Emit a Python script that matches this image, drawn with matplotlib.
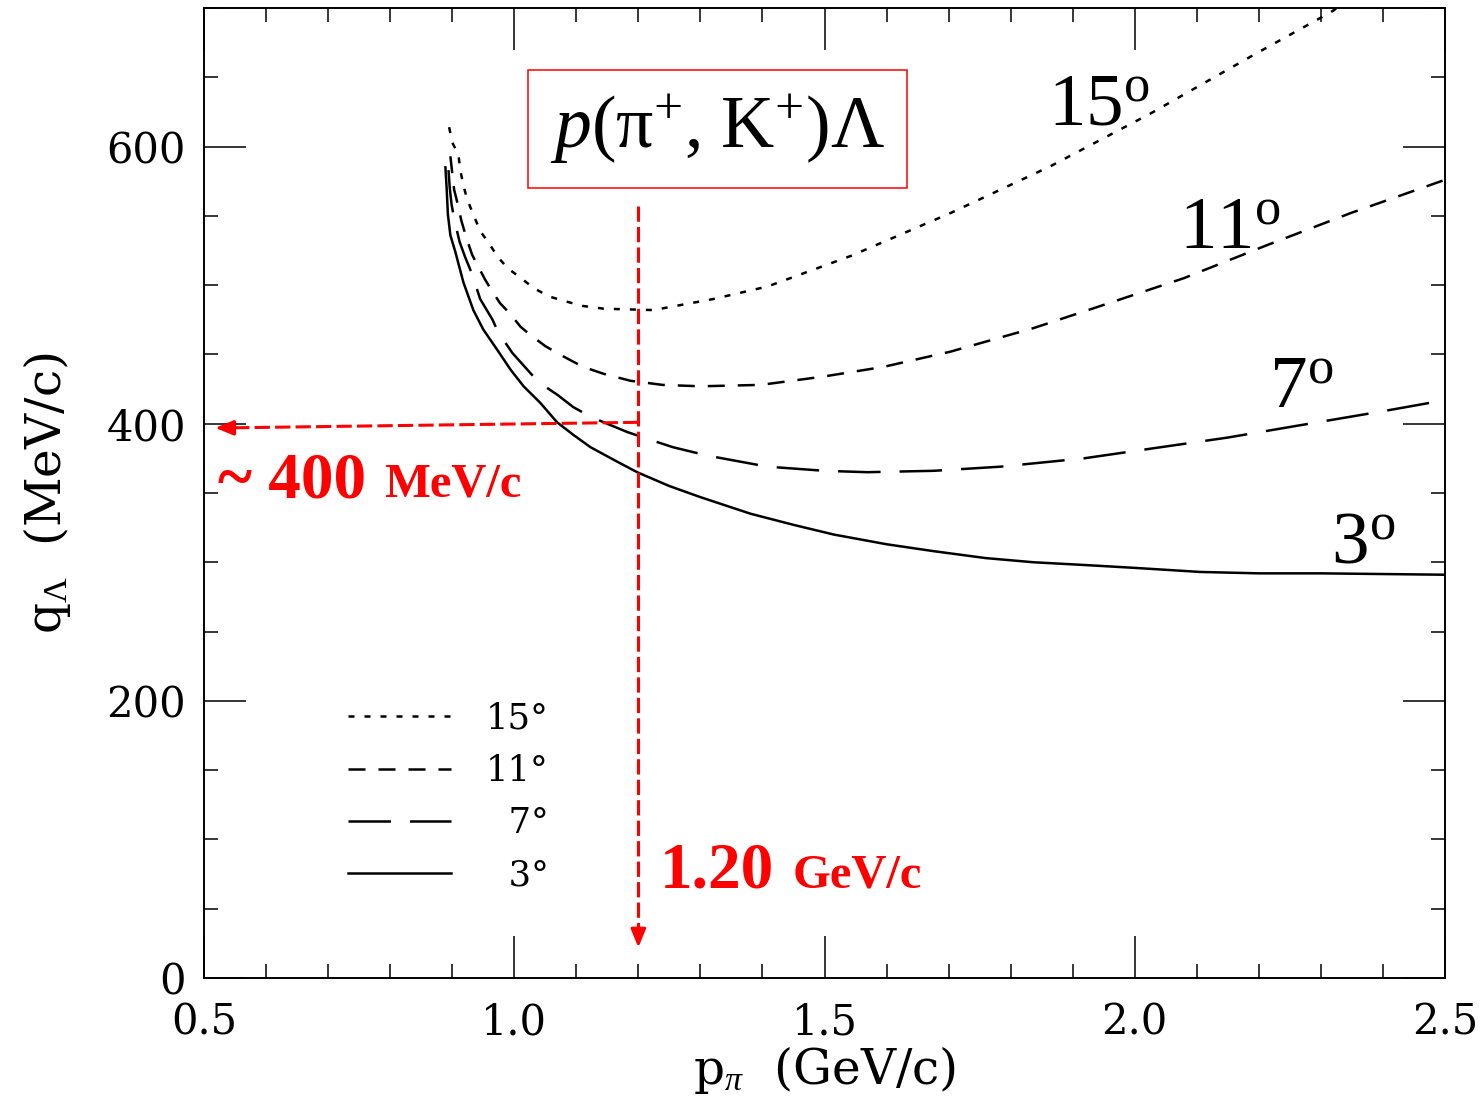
import numpy as np
import matplotlib.pyplot as plt
from matplotlib.ticker import MultipleLocator

plt.rcParams['font.family'] = 'DejaVu Serif'
plt.rcParams['mathtext.fontset'] = 'custom'
plt.rcParams['mathtext.rm'] = 'Liberation Serif'
plt.rcParams['mathtext.it'] = 'Liberation Serif:italic'
plt.rcParams['mathtext.bf'] = 'Liberation Serif:bold'

# q_Lambda (MeV/c) vs p_pi (GeV/c)
p15 = [0.895, 0.900, 0.910, 0.913, 0.918, 0.924, 0.934, 0.945, 0.958, 0.974,
       0.990, 1.011, 1.031, 1.055, 1.077, 1.110, 1.144, 1.224, 1.321, 1.408,
       1.542, 1.620, 1.703, 1.865, 2.026, 2.187, 2.316, 2.340]
q15 = [614, 603, 594, 583, 572, 562, 551, 539, 531, 520,
       512, 505, 498, 492, 489, 485, 483, 482, 490, 499,
       521, 536, 552, 586, 624, 665, 697, 704]

p11 = [0.897, 0.900, 0.903, 0.908, 0.915, 0.923, 0.932, 0.940, 0.953, 0.961,
       0.977, 0.994, 1.010, 1.026, 1.050, 1.069, 1.094, 1.111, 1.144, 1.187,
       1.239, 1.300, 1.397, 1.498, 1.595, 1.703, 1.837, 1.945, 2.079, 2.214,
       2.348, 2.500]
q11 = [593, 581, 569, 560, 546, 534, 522, 515, 504, 498,
       487, 479, 470, 464, 456, 451, 445, 441, 436, 431,
       428, 427, 428, 434, 441, 452, 469, 485, 505, 529,
       552, 576]

p7 = [0.894, 0.896, 0.899, 0.904, 0.912, 0.921, 0.932, 0.945, 0.965, 0.974,
      0.997, 1.021, 1.039, 1.069, 1.095, 1.123, 1.155, 1.182, 1.215, 1.256,
      1.311, 1.408, 1.500, 1.569, 1.676, 1.784, 1.918, 2.026, 2.150, 2.268,
      2.400, 2.500]
q7 = [583, 570, 558, 546, 531, 520, 508, 490, 475, 466,
      451, 439, 430, 421, 412, 405, 399, 394, 389, 383,
      377, 369, 366, 365, 366, 369, 375, 382, 390, 399,
      409, 417]

p3 = [0.889, 0.891, 0.893, 0.897, 0.905, 0.918, 0.934, 0.950, 0.973, 0.994,
      1.015, 1.042, 1.069, 1.095, 1.123, 1.160, 1.198, 1.250, 1.300, 1.381,
      1.450, 1.515, 1.600, 1.676, 1.760, 1.837, 1.920, 1.998, 2.106, 2.200,
      2.300, 2.500]
q3 = [585, 570, 551, 536, 524, 502, 482, 468, 453, 439,
      427, 415, 401, 392, 383, 374, 365, 355, 347, 335,
      327, 320, 313, 308, 303, 300, 298, 296, 293, 292,
      292, 291]

legend_labels = ['15°', '11°', '\u20077°', '\u20073°']
curve_labels = ['15$^{\\mathrm{o}}$', '11$^{\\mathrm{o}}$', '7$^{\\mathrm{o}}$', '3$^{\\mathrm{o}}$']
curve_label_pos = [(1.861, 616), (2.071, 527), (2.216, 412), (2.316, 300)]

p_sel = 1.20   # selected beam momentum
q_sel = 400    # corresponding momentum transfer

fig = plt.figure(figsize=(14.84, 10.96), dpi=100)
ax = fig.add_axes([0.1375, 0.1077, 0.8362, 0.885])

lw = 1.8
ax.plot(p15, q15, color='k', lw=lw, dashes=(2.4, 4.0), label=legend_labels[0])
ax.plot(p11, q11, color='k', lw=lw, dashes=(6.8, 5.2), label=legend_labels[1])
ax.plot(p7, q7, color='k', lw=lw, dashes=(17, 7.6), label=legend_labels[2])
ax.plot(p3, q3, color='k', lw=lw, label=legend_labels[3])

for lab, (xx, yy) in zip(curve_labels, curve_label_pos):
    ax.text(xx, yy, lab, fontsize=54, family='Liberation Serif', va='baseline', ha='left')

ax.set_xlim(0.5, 2.5)
ax.set_ylim(0, 700)
ax.xaxis.set_major_locator(MultipleLocator(0.5))
ax.xaxis.set_minor_locator(MultipleLocator(0.1))
ax.yaxis.set_major_locator(MultipleLocator(200))
ax.yaxis.set_minor_locator(MultipleLocator(50))
ax.xaxis.set_major_formatter(plt.FuncFormatter(lambda v, _: f'{v:.1f}'))
ax.tick_params(which='both', direction='in', top=True, right=True, width=1.1, labelsize=30)
ax.tick_params(which='major', length=30)
ax.tick_params(which='minor', length=10)
ax.tick_params(axis='y', pad=13)
ax.tick_params(axis='x', pad=17)
for s in ax.spines.values():
    s.set_linewidth(1.4)

ax.set_xlabel('p$_{\\pi}$  (GeV/c)', fontsize=35, labelpad=0)
ax.set_ylabel('q$_{\\Lambda}$  (MeV/c)', fontsize=35, labelpad=24)

ax.legend(loc='upper left', bbox_to_anchor=(0.116, 0.285), frameon=False,
          prop={'family': 'DejaVu Serif', 'size': 25.5}, handlelength=2.9,
          handletextpad=1.0, labelspacing=0.52, borderpad=0, borderaxespad=0)

# reaction label in red box
ax.text(1.327, 612.6, '$p$(π$^{+}$, K$^{+}$)Λ', fontsize=53, family='Liberation Serif',
        ha='center', va='center',
        bbox=dict(boxstyle='square,pad=0.3', fc='white', ec='red', lw=1.1))

# red guide lines with arrows
red = '#ff0000'
ax.plot([p_sel, p_sel], [557, 34], color=red, lw=2.2, dashes=(5, 1.7))
ax.annotate('', xy=(p_sel, 22), xytext=(p_sel, 36),
            arrowprops=dict(arrowstyle='-|>,head_length=1.1,head_width=0.45', color=red,
                            lw=2.2, shrinkA=0, shrinkB=0, mutation_scale=10))
ax.plot([p_sel, 0.54], [q_sel + 1, q_sel - 3], color=red, lw=2.2, dashes=(5, 1.7))
ax.annotate('', xy=(0.518, q_sel - 3), xytext=(0.545, q_sel - 3),
            arrowprops=dict(arrowstyle='-|>,head_length=1.1,head_width=0.45', color=red,
                            lw=2.2, shrinkA=0, shrinkB=0, mutation_scale=10))

t1 = ax.text(0.5226, 347, '~ 400', color=red, fontsize=47, fontweight='bold',
             family='Liberation Serif', va='baseline', ha='left')
ax.annotate('MeV/c', xy=(1, 0), xycoords=t1, xytext=(13, 10.2), textcoords='offset points',
            color=red, fontsize=35, fontweight='bold', family='Liberation Serif',
            va='baseline', ha='left')
t2 = ax.text(1.235, 65, '1.20', color=red, fontsize=47, fontweight='bold',
             family='Liberation Serif', va='baseline', ha='left')
ax.annotate('GeV/c', xy=(1, 0), xycoords=t2, xytext=(13, 10.2), textcoords='offset points',
            color=red, fontsize=35, fontweight='bold', family='Liberation Serif',
            va='baseline', ha='left')

fig.savefig('out.png', dpi=100)
